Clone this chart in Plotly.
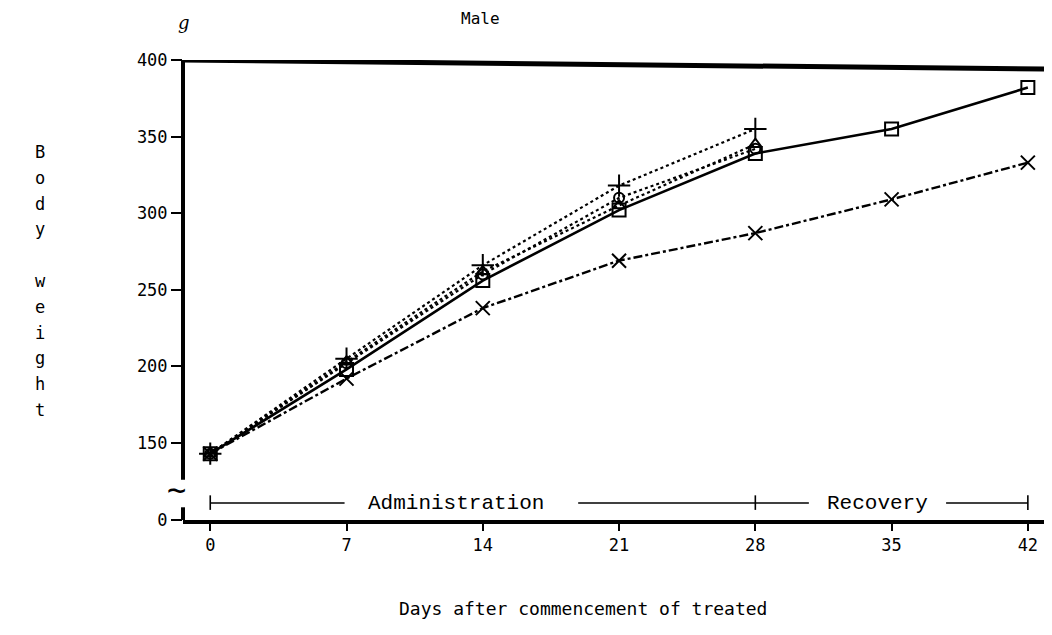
import plotly.graph_objects as go

days = [0, 7, 14, 21, 28, 35, 42]
days_admin = [0, 7, 14, 21, 28]

control = [143, 198, 256, 302, 339, 355, 382]        # square, solid
dose_circle = [143, 202, 260, 310, 342]              # circle, dotted
dose_triangle = [143, 203, 262, 305, 345]            # triangle, dotted
dose_plus = [143, 205, 266, 318, 355]                # plus, dotted
dose_x = [143, 192, 238, 269, 287, 309, 333]         # x, dash-dot

y_ticks = [150, 200, 250, 300, 350, 400]
x_ticks = [0, 7, 14, 21, 28, 35, 42]

MONO = "DejaVu Sans Mono"

fig = go.Figure()

def add(xs, ys, symbol, dash, width, size, name):
    fig.add_trace(go.Scatter(
        x=xs, y=ys, mode="lines+markers", name=name,
        line=dict(color="black", width=width, dash=dash),
        marker=dict(symbol=symbol, size=size, color="black",
                    line=dict(color="black", width=2)),
    ))

add(days_admin, dose_circle, "circle-open", "dot", 2.2, 10, "circle")
add(days_admin, dose_triangle, "triangle-up-open", "dot", 2.2, 11, "triangle")
add(days_admin, dose_plus, "cross-thin-open", "dot", 2.2, 16, "plus")
add(days, dose_x, "x-thin-open", "dashdot", 2.4, 14, "x")
add(days, control, "square-open", "solid", 2.6, 13, "control")

# invisible trace on the low (broken) axis to hold the 0 tick
fig.add_trace(go.Scatter(x=[0], y=[0], yaxis="y2", mode="markers",
                         marker=dict(opacity=0), showlegend=False, hoverinfo="skip"))

# page has an 8px body margin: figure is laid out in page pixels minus 8
OFF = 8
W, H = 1052 - OFF, 635 - OFF
L, R, T, B = 183 - OFF, 0, 60 - OFF, 635 - 520
pw, ph = W - L - R, H - T - B

fig.update_layout(
    width=W, height=H,
    margin=dict(l=L, r=R, t=T, b=B, pad=0),
    paper_bgcolor="white", plot_bgcolor="white",
    showlegend=False,
    font=dict(family=MONO, color="black"),
    xaxis=dict(range=[-1.4, 43.24], tickvals=x_ticks, ticktext=[str(v) for v in x_ticks],
               showgrid=False, zeroline=False, showline=True, linecolor="black", linewidth=4,
               ticks="outside", ticklen=7, tickwidth=2, tickcolor="black", automargin=False,
               tickfont=dict(family=MONO, size=17)),
    yaxis=dict(range=[99.7, 400], tickvals=y_ticks, ticktext=[str(v) for v in y_ticks],
               showgrid=False, zeroline=False, showline=False, automargin=False,
               ticks="outside", ticklen=11, tickwidth=2, tickcolor="black",
               tickfont=dict(family=MONO, size=17)),
    yaxis2=dict(range=[0, 300.3], overlaying="y", side="left", anchor="x", automargin=False,
                tickvals=[0], ticktext=["0"], showgrid=False, zeroline=False, showline=False,
                ticks="outside", ticklen=11, tickwidth=2, tickcolor="black",
                tickfont=dict(family=MONO, size=17)),
)

shapes = []
# left spine (broken)
shapes.append(dict(type="line", xref="paper", yref="y", x0=0, x1=0, y0=401, y1=126,
                   line=dict(color="black", width=4)))
shapes.append(dict(type="line", xref="paper", yref="y", x0=0, x1=0, y0=108, y1=99.7,
                   line=dict(color="black", width=4)))
# top spine (slightly skewed as in the scan)
shapes.append(dict(type="line", xref="paper", yref="y", x0=0, x1=1, y0=400, y1=394,
                   line=dict(color="black", width=5)))
# right edge fragment
shapes.append(dict(type="line", xref="paper", yref="y", x0=0.997, x1=0.997, y0=119, y1=101,
                   line=dict(color="black", width=2)))
# period brackets
yb = 110.8
for a, b in [(0, 6.9), (18.9, 30.75), (37.8, 42)]:
    shapes.append(dict(type="line", xref="x", yref="y", x0=a, x1=b, y0=yb, y1=yb,
                       line=dict(color="black", width=1.6)))
for xv in [0, 28, 42]:
    shapes.append(dict(type="line", xref="x", yref="y", x0=xv, x1=xv, y0=yb + 5, y1=yb - 4.5,
                       line=dict(color="black", width=1.6)))
fig.update_layout(shapes=shapes)

def px(x):
    return (x - OFF - L) / pw

def py(y):
    return (H - B - (y - OFF)) / ph

ann = []
ann.append(dict(text="Administration", x=12.6, y=yb, xref="x", yref="y", showarrow=False,
                font=dict(family="Liberation Mono", size=21), yshift=0))
ann.append(dict(text="Recovery", x=34.3, y=yb, xref="x", yref="y", showarrow=False,
                font=dict(family="Liberation Mono", size=21), yshift=0))
ann.append(dict(text="~", x=px(176), y=py(490), xref="paper", yref="paper",
                showarrow=False, font=dict(family=MONO, size=32)))
# titles
ann.append(dict(text="Male", x=px(480), y=py(18), xref="paper", yref="paper", showarrow=False,
                font=dict(family=MONO, size=16)))
ann.append(dict(text="<i>g</i>", x=px(184), y=py(22), xref="paper", yref="paper",
                showarrow=False, font=dict(family="DejaVu Serif", size=18)))
ann.append(dict(text="Days after commencement of treated", x=px(583), y=py(608),
                xref="paper", yref="paper", showarrow=False, font=dict(family=MONO, size=18)))
letters = "Body weight"
for i, ch in enumerate(letters):
    if ch == " ":
        continue
    ann.append(dict(text=ch, x=px(40), y=py(152 + i * 25.8), xref="paper", yref="paper",
                    showarrow=False, font=dict(family=MONO, size=17)))
for a in ann:
    a["xanchor"] = "center"
    a["yanchor"] = "middle"
fig.update_layout(annotations=ann)

fig.write_html("out.html")
